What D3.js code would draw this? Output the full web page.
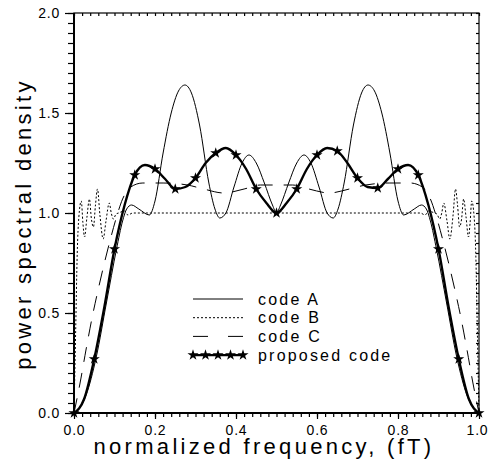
<!DOCTYPE html>
<html>
<head>
<meta charset="utf-8">
<script src="https://cdn.jsdelivr.net/npm/d3@7"></script>
<style>
  body { margin: 0; background: #fff; }
  text { font-family: "Liberation Sans", Arial, sans-serif; fill: #000; }
</style>
</head>
<body>
<div class="chart"></div>
<script>
// spectra, [normalized frequency, psd]
const codeA = [[0,0],[0.03,0.09],[0.055,0.28],[0.08,0.55],[0.105,0.82],[0.12,0.96],[0.13,1.02],[0.142,1.04],[0.16,1.02],[0.186,0.99],[0.2,1.06],[0.22,1.3],[0.24,1.5],[0.258,1.61],[0.274,1.64],[0.29,1.6],[0.31,1.44],[0.333,1.15],[0.348,1.02],[0.36,0.975],[0.375,1.0],[0.395,1.13],[0.415,1.25],[0.432,1.29],[0.45,1.25],[0.47,1.15],[0.49,1.04],[0.5,1.0],
  [0.51,1.04],[0.53,1.15],[0.55,1.25],[0.568,1.29],[0.585,1.25],[0.605,1.13],[0.625,1.0],[0.64,0.975],[0.652,1.02],[0.667,1.15],[0.69,1.44],[0.71,1.6],[0.726,1.64],[0.742,1.61],[0.76,1.5],[0.78,1.3],[0.8,1.06],[0.814,0.99],[0.84,1.02],[0.858,1.04],[0.87,1.02],[0.88,0.96],[0.895,0.82],[0.92,0.55],[0.945,0.28],[0.97,0.09],[1,0]]

const codeB = [[0,0],[0.004,0.4],[0.008,0.8],[0.012,0.98],[0.018,1.06],[0.022,0.95],[0.026,0.88],[0.032,0.98],[0.038,1.07],[0.043,0.97],[0.048,0.93],[0.053,1.04],[0.058,1.12],[0.064,0.99],[0.072,0.87],[0.079,0.96],[0.087,1.05],[0.092,1.0],[0.097,0.97],[0.104,0.995],[0.11,1.0],[0.125,1.01],[0.133,0.99],[0.145,1.0],
  [0.855,1.0],[0.867,0.99],[0.875,1.01],[0.89,1.0],[0.896,0.995],[0.903,0.97],[0.908,1.0],[0.913,1.05],[0.921,0.96],[0.928,0.87],[0.936,0.99],[0.942,1.12],[0.947,1.04],[0.952,0.93],[0.957,0.97],[0.962,1.07],[0.968,0.98],[0.974,0.88],[0.978,0.95],[0.982,1.06],[0.988,0.98],[0.992,0.8],[0.996,0.4],[1,0]]

const codeC = [[0,0],[0.015,0.15],[0.03,0.32],[0.045,0.48],[0.06,0.62],[0.075,0.75],[0.09,0.87],[0.105,0.98],[0.12,1.07],[0.14,1.13],[0.17,1.15],[0.22,1.15],[0.28,1.14],[0.32,1.12],[0.37,1.10],[0.42,1.12],[0.46,1.14],[0.5,1.14],
  [0.54,1.14],[0.58,1.12],[0.63,1.10],[0.68,1.12],[0.72,1.14],[0.78,1.15],[0.83,1.15],[0.86,1.13],[0.88,1.07],[0.895,0.98],[0.91,0.87],[0.925,0.75],[0.94,0.62],[0.955,0.48],[0.97,0.32],[0.985,0.15],[1,0]]

const proposed = [[0,0],[0.025,0.07],[0.05,0.27],[0.075,0.53],[0.1,0.82],[0.125,1.04],[0.15,1.19],[0.175,1.24],[0.2,1.22],[0.225,1.17],[0.25,1.12],[0.275,1.13],[0.3,1.175],[0.325,1.25],[0.35,1.3],[0.375,1.325],[0.4,1.29],[0.425,1.22],[0.45,1.12],[0.475,1.05],[0.5,1.0],
  [0.525,1.05],[0.55,1.12],[0.575,1.22],[0.6,1.29],[0.625,1.325],[0.65,1.31],[0.675,1.25],[0.7,1.175],[0.725,1.13],[0.75,1.125],[0.775,1.17],[0.8,1.22],[0.825,1.24],[0.85,1.19],[0.875,1.04],[0.9,0.82],[0.925,0.53],[0.95,0.27],[0.975,0.07],[1,0]]

// stars sit on every 0.05 step of the proposed curve
const starFreqs = [0,0.05,0.1,0.15,0.2,0.25,0.3,0.35,0.4,0.45,0.5,0.55,0.6,0.65,0.7,0.75,0.8,0.85,0.9,0.95,1]

const xTicks = [0, 0.2, 0.4, 0.6, 0.8, 1.0]
const yTicks = [0, 0.5, 1.0, 1.5, 2.0]
const legendNames = ['code A', 'code B', 'code C', 'proposed code']

const width = 489, height = 465
const margin = {top: 13, right: 10, bottom: 52, left: 74}
const innerWidth = width - margin.left - margin.right
const innerHeight = height - margin.top - margin.bottom

const svg = d3.select('.chart').append('svg').attr('width', width).attr('height', height)
const g = svg.append('g').attr('transform', `translate(${margin.left}, ${margin.top})`)

const x = d3.scaleLinear().domain([0, 1]).range([0, innerWidth])
const y = d3.scaleLinear().domain([0, 2]).range([innerHeight, 0])

// minor ticks, no labels
const xMinor = d3.range(0, 1.0001, 0.02)
const yMinor = d3.range(0, 2.0001, 0.05)
const bare = a => { a.select('.domain').remove(); a.selectAll('text').remove() }

g.append('g').attr('transform', `translate(0, ${innerHeight})`)
  .call(d3.axisBottom(x).tickValues(xMinor).tickSize(4)).call(bare)
g.append('g')
  .call(d3.axisLeft(y).tickValues(yMinor).tickSize(6)).call(bare)
g.append('g').call(d3.axisTop(x).tickValues(xMinor).tickSize(-3)).call(bare)
g.append('g').attr('transform', `translate(${innerWidth}, 0)`)
  .call(d3.axisRight(y).tickValues(yMinor).tickSize(-3)).call(bare)

// major ticks + labels
const xAxis = g.append('g').attr('transform', `translate(0, ${innerHeight})`)
  .call(d3.axisBottom(x).tickValues(xTicks).tickSize(6).tickPadding(6).tickFormat(d3.format('.1f')))
xAxis.select('.domain').remove()
xAxis.selectAll('text').attr('font-size', 14).attr('letter-spacing', 0.8)
  .attr('font-family', '"Liberation Sans", Arial, sans-serif')
  .attr('dx', d => d === 1 ? -2 : 0)

const yAxis = g.append('g')
  .call(d3.axisLeft(y).tickValues(yTicks).tickSize(9).tickPadding(5).tickFormat(d3.format('.1f')))
yAxis.select('.domain').remove()
yAxis.selectAll('text').attr('font-size', 14).attr('letter-spacing', 0.8)
  .attr('font-family', '"Liberation Sans", Arial, sans-serif')

g.selectAll('.tick line').attr('stroke', '#000').attr('stroke-width', 1.2)

// frame
g.append('rect').attr('width', innerWidth).attr('height', innerHeight)
  .attr('fill', 'none').attr('stroke', '#000').attr('stroke-width', 1.2)
g.append('line').attr('x1', 0).attr('x2', 0).attr('y1', 0).attr('y2', innerHeight)
  .attr('stroke', '#000').attr('stroke-width', 2)
g.append('line').attr('x1', 0).attr('x2', innerWidth).attr('y1', innerHeight).attr('y2', innerHeight)
  .attr('stroke', '#000').attr('stroke-width', 2)

const line = d3.line().x(d => x(d[0])).y(d => y(d[1])).curve(d3.curveMonotoneX)

const series = [
  {data: codeA, dash: null, width: 1},
  {data: codeB, dash: '2,2', width: 1},
  {data: codeC, dash: '15,11', width: 1},
  {data: proposed, dash: null, width: 2.4}
]

g.selectAll('path.curve')
  .data(series)
  .join('path')
  .attr('class', 'curve')
  .attr('d', d => line(d.data))
  .attr('fill', 'none')
  .attr('stroke', '#000')
  .attr('stroke-width', d => d.width)
  .attr('stroke-dasharray', d => d.dash)

const star = d3.symbol().type(d3.symbolStar).size(38)
const starPts = proposed.filter(p => starFreqs.some(f => Math.abs(f - p[0]) < 1e-6))
g.selectAll('path.star')
  .data(starPts)
  .join('path')
  .attr('class', 'star')
  .attr('d', star)
  .attr('transform', d => `translate(${x(d[0])}, ${y(d[1])})`)
  .attr('fill', '#000')

// legend
const legend = svg.append('g').attr('transform', 'translate(193, 299)')
const rowH = 18.7
legendNames.forEach((name, i) => {
  const s = series[i]
  const row = legend.append('g').attr('transform', `translate(0, ${i * rowH})`)
  row.append('line').attr('x1', 0).attr('x2', 50).attr('y1', 0).attr('y2', 0)
    .attr('stroke', '#000').attr('stroke-width', s.width)
    .attr('stroke-dasharray', i === 2 ? '15,20' : s.dash)
  if (i === 3) {
    row.selectAll('path').data(d3.range(5)).join('path')
      .attr('d', star).attr('fill', '#000')
      .attr('transform', k => `translate(${k * 12.5}, 0)`)
  }
  row.append('text').attr('x', 65).attr('y', 0).attr('dy', '0.35em')
    .attr('font-size', 16).attr('letter-spacing', 2.2).text(name)
})

// axis titles
svg.append('text')
  .attr('x', 264).attr('y', 454)
  .attr('text-anchor', 'middle').attr('font-size', 22).attr('letter-spacing', 3.3)
  .text('normalized frequency, (fT)')

svg.append('text')
  .attr('transform', `translate(31, 224) rotate(-90)`)
  .attr('text-anchor', 'middle').attr('font-size', 22).attr('letter-spacing', 3.3)
  .text('power spectral density')
</script>
</body>
</html>
